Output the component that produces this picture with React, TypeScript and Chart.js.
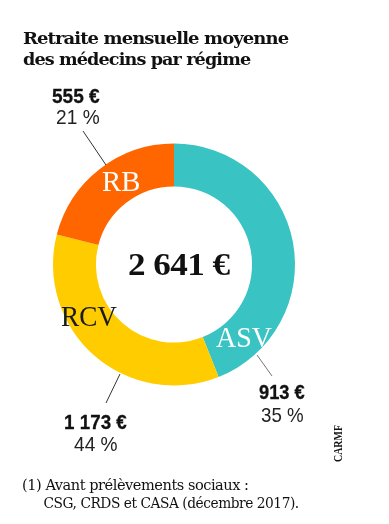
import React, { useEffect, useRef } from "react";
import { Chart, registerables } from "chart.js";

Chart.register(...registerables);

// ---- data ----
const regimes = ["ASV", "RCV", "RB"];
const amounts = [913, 1173, 555];
const percents = [35, 44, 21];
// arc sizes as drawn in the graphic (share of the ring, %)
const arcShares = [44, 35, 21];
const total = 2641;
const sliceColors = ["#3ac3c3", "#ffcc00", "#ff6600"];
const titleLines = ["Retraite mensuelle moyenne", "des médecins par régime"];
const footLines = ["(1) Avant prélèvements sociaux :", "CSG, CRDS et CASA (décembre 2017)."];
const source = "CARMF";

const fmt = (n: number) =>
  String(n).replace(/\B(?=(\d{3})+(?!\d))/g, " ");

type Align = "left" | "center";

const serifB = (s: number) => `bold ${s}px "DejaVu Serif"`;
const serif = (s: number) => `${s}px "DejaVu Serif"`;
const tSerif = (s: number) => `${s}px "Liberation Serif"`;
const tSerifB = (s: number) => `bold ${s}px "Liberation Serif"`;
const sansB = (s: number) => `bold ${s}px "Liberation Sans"`;
const sans = (s: number) => `${s}px "Liberation Sans"`;

function fitText(
  ctx: CanvasRenderingContext2D,
  text: string,
  x: number,
  y: number,
  w: number,
  font: string,
  color: string,
  align: Align = "left",
  heavy = 0,
  spacing = 0
) {
  ctx.save();
  ctx.font = font;
  (ctx as any).letterSpacing = `${spacing}px`;
  ctx.fillStyle = color;
  ctx.strokeStyle = color;
  ctx.textBaseline = "alphabetic";
  ctx.textAlign = "left";
  const m = ctx.measureText(text);
  const ink = m.actualBoundingBoxLeft + m.actualBoundingBoxRight;
  const s = w / ink;
  const left = align === "center" ? x - w / 2 : x;
  ctx.translate(left + m.actualBoundingBoxLeft * s, y);
  ctx.scale(s, 1);
  ctx.fillText(text, 0, 0);
  if (heavy > 0) {
    ctx.lineWidth = heavy;
    ctx.lineJoin = "round";
    ctx.strokeText(text, 0, 0);
  }
  ctx.restore();
}

function line(ctx: CanvasRenderingContext2D, x1: number, y1: number, x2: number, y2: number, c: string) {
  ctx.save();
  ctx.strokeStyle = c;
  ctx.lineWidth = 1;
  ctx.beginPath();
  ctx.moveTo(x1, y1);
  ctx.lineTo(x2, y2);
  ctx.stroke();
  ctx.restore();
}

const textPlugin = {
  id: "textPlugin",
  afterDraw(chart: any) {
    const ctx: CanvasRenderingContext2D = chart.ctx;

    // title
    fitText(ctx, titleLines[0], 23, 43.5, 266, serifB(17.5), "#111", "left", 0, -0.9);
    fitText(ctx, titleLines[1], 23, 64.5, 228, serifB(17.5), "#111", "left", 0, -0.9);

    // centre total
    fitText(ctx, `${fmt(total)} €`, 179.5, 275, 101, tSerifB(32), "#111", "center", 0, -0.5);

    // slice names
    fitText(ctx, regimes[2], 120.5, 191, 37, tSerif(29), "#ffffff", "center");
    fitText(ctx, regimes[1], 89, 326, 56, tSerif(29), "#1a1a1a", "center");
    fitText(ctx, regimes[0], 244, 347, 56, tSerif(29), "#ffffff", "center");

    // leader lines
    line(ctx, 83, 131, 106, 165, "#333");
    line(ctx, 257, 355, 272, 376, "#777");
    line(ctx, 120, 374, 106, 403, "#333");

    // value labels
    fitText(ctx, `${fmt(amounts[2])} €`, 76, 102.5, 48, sansB(21), "#111", "center", 0.3);
    fitText(ctx, `${percents[2]} %`, 78, 123.5, 42, sans(21), "#222", "center");
    fitText(ctx, `${fmt(amounts[0])} €`, 282, 399, 46, sansB(21), "#111", "center", 0.3);
    fitText(ctx, `${percents[0]} %`, 282, 422, 42, sans(21), "#222", "center");
    fitText(ctx, `${fmt(amounts[1])} €`, 96, 428.5, 62, sansB(21), "#111", "center", 0.3);
    fitText(ctx, `${percents[1]} %`, 95.5, 450.5, 43, sans(21), "#222", "center");

    // source (vertical)
    ctx.save();
    ctx.translate(341.5, 462);
    ctx.rotate(-Math.PI / 2);
    fitText(ctx, source, 0, 0, 37, tSerifB(13), "#111");
    ctx.restore();

    // footnote
    fitText(ctx, footLines[0], 23, 490, 225, serif(15), "#111", "left", 0, -0.5);
    fitText(ctx, footLines[1], 43.5, 507.5, 255, serif(15), "#111", "left", 0, -0.5);
  },
};

export default function App() {
  const ref = useRef<HTMLCanvasElement | null>(null);
  useEffect(() => {
    document.body.style.margin = "0";
    const canvas = ref.current!;
    const chart = new Chart(canvas, {
      type: "doughnut",
      data: {
        labels: regimes,
        datasets: [
          {
            data: arcShares,
            backgroundColor: sliceColors,
            borderWidth: 0,
            hoverOffset: 0,
          },
        ],
      },
      options: {
        responsive: false,
        animation: false,
        cutout: "64.5%",
        rotation: 0,
        layout: { padding: { left: 53, right: 94, top: 143, bottom: 138 } },
        plugins: {
          legend: { display: false },
          tooltip: { enabled: false },
          title: { display: false },
        },
        events: [],
      },
      plugins: [textPlugin],
    });
    let alive = true;
    const specs = [serifB(17.5), serif(15), tSerif(29), tSerifB(32), tSerifB(13), sansB(21), sans(21)];
    const fonts: any = (document as any).fonts;
    if (fonts && fonts.load) {
      Promise.all(specs.map((f) => fonts.load(f, "Aé€1")))
        .then(() => fonts.ready)
        .then(() => {
          if (alive) chart.draw();
        })
        .catch(() => {});
    }
    const t = setTimeout(() => {
      if (alive) chart.draw();
    }, 200);
    return () => {
      alive = false;
      clearTimeout(t);
      chart.destroy();
    };
  }, []);
  return (
    <div style={{ position: "absolute", left: 0, top: 0, width: 389, height: 524, background: "#fff" }}>
      <canvas ref={ref} width={389} height={524} style={{ display: "block", width: 389, height: 524 }} />
    </div>
  );
}
